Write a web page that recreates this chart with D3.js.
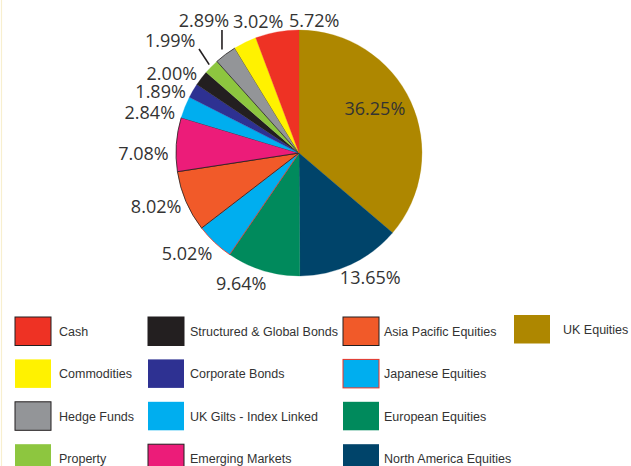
<!DOCTYPE html>
<html>
<head>
<meta charset="utf-8">
<script src="https://cdn.jsdelivr.net/npm/d3@7"></script>
<style>
  html, body { margin: 0; padding: 0; background: #fff; }
  svg { display: block; }
</style>
</head>
<body>
<svg id="chart" width="631" height="466"></svg>
<script>
// ---- data (pie order, clockwise from 12 o'clock) ----
const categories = ["UK Equities", "North America Equities", "European Equities", "Japanese Equities",
  "Asia Pacific Equities", "Emerging Markets", "UK Gilts - Index Linked", "Corporate Bonds",
  "Structured & Global Bonds", "Property", "Hedge Funds", "Commodities", "Cash"];
const values = [36.25, 13.65, 9.64, 5.02, 8.02, 7.08, 2.84, 1.89, 2.00, 1.99, 2.89, 3.02, 5.72];
const valueLabels = ["36.25%", "13.65%", "9.64%", "5.02%", "8.02%", "7.08%", "2.84%", "1.89%",
  "2.00%", "1.99%", "2.89%", "3.02%", "5.72%"];
const colors = ["#ae8700", "#00446a", "#008a5c", "#00aeef", "#f15a29", "#ec1c79", "#00aeef",
  "#2e3192", "#231f20", "#8dc63f", "#939598", "#fff200", "#ee3224"];
const sliceStrokes = [null, null, null, "#ee3224", "#231f20", "#231f20", null, null, null, null,
  "#231f20", null, null];
const legendStrokes = [null, null, null, "#ee3224", "#231f20", "#231f20", null, null, "#231f20",
  null, "#231f20", null, "#231f20"];

// ---- layout ----
const cx = 299, cy = 153, R = 123;
// label placement: radius from centre and pixel nudges
const labelRadius = [88, 150, 150, 150, 150, 150, 150, 150, 150, 150, 150, 150, 150];
const labelNudge = [[-4,-8],[8,-12],[-14,-13],[-9,-9],[-5,-6],[-6,10],[-10,15],[-9,14],[-8,11],
  [-22,-8],[-5.5,-12.5],[25,3],[42,15]];
const leaderIdx = { 9: {r0: R + 3, end: [199, 49]}, 10: {r0: R + 6, end: null} };
const legendColX = [15, 148, 343, 514];
const legendTextDx = [44, 42, 41, 49];
const legendRowY0 = 317, legendRowStep = 42.4;

const svg = d3.select("#chart");

// faint cream border at left edge
svg.append("line").attr("x1", 1.5).attr("x2", 1.5).attr("y1", 0).attr("y2", 466)
  .attr("stroke", "#f8efcf").attr("stroke-width", 1.2);

const pie = d3.pie().sort(null).value(d => d)(values);
const arc = d3.arc().innerRadius(0).outerRadius(R);

const g = svg.append("g").attr("transform", `translate(${cx},${cy})`);
g.selectAll("path.slice").data(pie).join("path")
  .attr("class", "slice")
  .attr("d", arc)
  .attr("fill", (d, i) => colors[i])
  .attr("stroke", (d, i) => sliceStrokes[i] || colors[i])
  .attr("stroke-width", (d, i) => sliceStrokes[i] ? 0.8 : 0.3)
  .attr("stroke-linejoin", "round");

// labels
const mid = d => (d.startAngle + d.endAngle) / 2;
g.selectAll("text.pct").data(pie).join("text")
  .attr("class", "pct")
  .attr("x", (d, i) => labelRadius[i] * Math.sin(mid(d)) + labelNudge[i][0])
  .attr("y", (d, i) => -labelRadius[i] * Math.cos(mid(d)) + labelNudge[i][1])
  .attr("text-anchor", "middle")
  .attr("dominant-baseline", "central")
  .attr("font-family", "'Open Sans', 'DejaVu Sans', sans-serif")
  .attr("font-size", 18)
  .attr("fill", "#333333")
  .text((d, i) => valueLabels[i]);

// leader lines
Object.keys(leaderIdx).forEach(k => {
  const i = +k, d = pie[i], a = mid(d), L = leaderIdx[k];
  const x0 = L.r0 * Math.sin(a), y0 = -L.r0 * Math.cos(a);
  const x1 = L.end ? L.end[0] - cx : x0, y1 = L.end ? L.end[1] - cy : 30 - cy;
  g.append("line").attr("x1", x0).attr("y1", y0).attr("x2", x1).attr("y2", y1)
    .attr("stroke", "#231f20").attr("stroke-width", 1.6);
});

// legend (reverse of pie order, column-wise)
const legendOrder = d3.range(categories.length).reverse();
const lg = svg.append("g");
legendOrder.forEach((ci, k) => {
  const col = Math.floor(k / 4), row = k % 4;
  const x = legendColX[col];
  const y = legendRowY0 + row * legendRowStep - (col === 3 ? 2 : 0);
  lg.append("rect").attr("x", x).attr("y", y).attr("width", 36).attr("height", 28.5)
    .attr("fill", colors[ci])
    .attr("stroke", legendStrokes[ci] || "none")
    .attr("stroke-width", legendStrokes[ci] ? 1 : 0);
  lg.append("text")
    .attr("x", x + legendTextDx[col])
    .attr("y", y + 15)
    .attr("dominant-baseline", "central")
    .attr("font-family", "'Liberation Sans', Arial, sans-serif")
    .attr("font-size", 12.5)
    .attr("fill", "#333333")
    .text(categories[ci]);
});
</script>
</body>
</html>
